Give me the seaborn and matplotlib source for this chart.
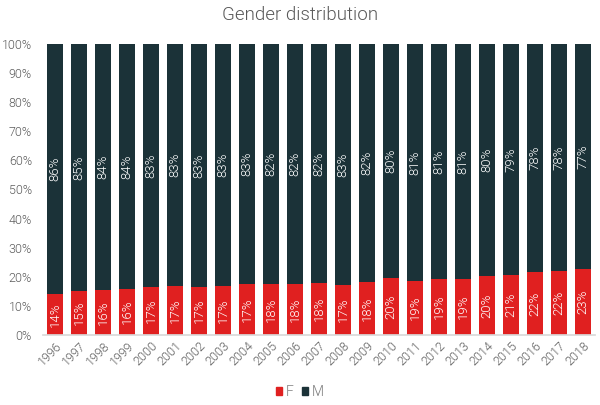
import numpy as np
import pandas as pd
import seaborn as sns
import matplotlib.pyplot as plt
from matplotlib.patches import Patch
from matplotlib.ticker import PercentFormatter

years = [str(y) for y in range(1996, 2019)]
# share of women per year (percent)
female = [14.2, 15.1, 15.6, 15.8, 16.6, 16.8, 16.6, 16.8, 17.4, 17.6, 17.6, 17.9,
          17.2, 18.2, 19.6, 18.6, 19.2, 19.2, 20.3, 20.6, 21.6, 22.0, 22.6]
male = [100 - f for f in female]

RED = "#e02020"
DARK = "#1b3238"
GREY = "#5f5f5f"
W = 300  # roboto light

sns.set_theme(style="white")
plt.rcParams["font.family"] = ["Roboto", "DejaVu Sans"]
plt.rcParams["font.weight"] = W

df = pd.DataFrame({"year": years, "F": female, "M": male})
df["total"] = df["F"] + df["M"]

fig = plt.figure(figsize=(6, 4.05), dpi=100)
ax = fig.add_axes([43 / 600, 70 / 405, 552 / 600, 291 / 405])

sns.barplot(data=df, x="year", y="total", color=DARK, saturation=1, width=0.667,
            linewidth=0, ax=ax)
sns.barplot(data=df, x="year", y="F", color=RED, saturation=1, width=0.667,
            linewidth=0, ax=ax)

# labels inside the segments
for i, (f, m) in enumerate(zip(female, male)):
    ax.text(i, f / 2, f"{round(f)}%", rotation=90, ha="center", va="center",
            color="white", fontsize=9.5, fontweight=W)
    ax.text(i, f + m / 2, f"{round(m)}%", rotation=90, ha="center", va="center",
            color="white", fontsize=9.5, fontweight=W)

ax.set_ylim(0, 100)
ax.set_xlim(-0.5, len(years) - 0.5)
ax.set_yticks(np.arange(0, 101, 10))
ax.yaxis.set_major_formatter(PercentFormatter(decimals=0))
ax.set_xlabel("")
ax.set_ylabel("")
ax.tick_params(axis="y", colors=GREY, labelsize=9, length=0, pad=8)
ax.tick_params(axis="x", colors=GREY, labelsize=9, length=0, pad=3)
plt.setp(ax.get_xticklabels(), rotation=45, ha="right", rotation_mode="anchor")
for lbl in ax.get_xticklabels() + ax.get_yticklabels():
    lbl.set_fontweight(W)

sns.despine(ax=ax, left=True)
ax.spines["bottom"].set_color("#d9d9d9")

fig.suptitle("Gender distribution", y=0.985, fontsize=13.5, color="#595959", fontweight=W)

handles = [Patch(color=RED, label="F"), Patch(color=DARK, label="M")]
fig.legend(handles=handles, loc="center", bbox_to_anchor=(0.5, 0.032), ncol=2, frameon=False,
           handlelength=0.45, handleheight=0.45, handletextpad=0.25, columnspacing=0.6,
           labelcolor="#7f7f7f", prop={"size": 10, "weight": W})

fig.savefig("out.png", dpi=100)
